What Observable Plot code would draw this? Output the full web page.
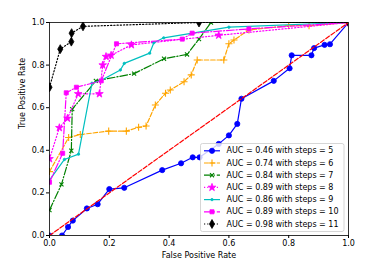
<!DOCTYPE html>
<html><head><meta charset="utf-8">
<script src="https://cdn.jsdelivr.net/npm/d3@7"></script>
<script src="https://cdn.jsdelivr.net/npm/@observablehq/plot@0.6"></script>
<style>body{margin:0;background:#fff}</style>
</head><body><div id="chart"></div>
<script>
const steps = [5, 6, 7, 8, 9, 10, 11];
const aucs = [0.46, 0.74, 0.84, 0.89, 0.86, 0.89, 0.98];
const fpr5 = [0,0.042,0.062,0.078,0.125,0.161,0.2,0.25,0.377,0.44,0.479,0.502,0.566,0.6,0.628,0.642,0.75,0.803,0.81,0.876,0.885,0.92,0.938,1];
const tpr5 = [0,0,0.04,0.07,0.127,0.147,0.218,0.224,0.307,0.339,0.367,0.367,0.43,0.47,0.524,0.642,0.726,0.785,0.846,0.846,0.88,0.895,0.898,1];
const fpr6 = [0,0.064,0.103,0.198,0.257,0.298,0.323,0.354,0.388,0.404,0.45,0.474,0.494,0.583,0.6,0.617,0.667,0.8,0.868,1];
const tpr6 = [0.30,0.46,0.474,0.49,0.49,0.508,0.514,0.613,0.668,0.683,0.722,0.754,0.824,0.824,0.90,0.918,0.965,0.985,0.985,1];
const fpr7 = [0,0.04,0.073,0.076,0.155,0.283,0.383,0.46,0.5,0.54,1];
const tpr7 = [0.119,0.24,0.398,0.593,0.726,0.76,0.83,0.85,0.922,1,1];
const fpr8 = [0,0.033,0.06,0.096,0.167,0.178,0.189,0.206,0.274,0.566,1];
const tpr8 = [0.36,0.506,0.55,0.665,0.665,0.80,0.84,0.846,0.895,0.94,1];
const fpr9 = [0,0.05,0.097,0.142,0.175,0.237,0.25,0.335,0.349,0.382,0.6,1];
const tpr9 = [0.26,0.357,0.382,0.715,0.73,0.777,0.808,0.856,0.905,0.928,0.978,1];
const fpr10 = [0,0.044,0.056,0.09,0.173,0.224,0.444,0.477,0.667,1];
const tpr10 = [0.25,0.386,0.67,0.696,0.726,0.90,0.922,0.95,0.97,1];
const fpr11 = [0,0.036,0.073,0.074,0.112,0.5,1];
const tpr11 = [0.696,0.875,0.91,0.95,0.982,1,1];
const diagX = [0, 1];
const diagY = [0, 1];
const xTicks = [0, 0.2, 0.4, 0.6, 0.8, 1.0];
const yTicks = [0, 0.2, 0.4, 0.6, 0.8, 1.0];

const fprs = [fpr5, fpr6, fpr7, fpr8, fpr9, fpr10, fpr11];
const tprs = [tpr5, tpr6, tpr7, tpr8, tpr9, tpr10, tpr11];
const colors = ["#0000ff", "#ffa500", "#008000", "#ff00ff", "#00bfbf", "#ff00ff", "#000000"];
const dashes = ["none", "4.5,1.9", "7.8,1.9,1.2,1.9", "1.2,2", "none", "7.8,1.9,1.2,1.9", "1.2,2"];
const symbols = ["circle", "plus", "times", "star", "circle", "square", "diamond"];
const radii = [2.6, 2.4, 2.0, 2.4, 1.2, 2.3, 2.7];
const strokeSym = [false, true, true, false, false, false, false];
const labels = steps.map((s, i) => `AUC = ${aucs[i].toFixed(2)} with steps = ${s}`);

const marks = [];
fprs.forEach((fx, i) => {
  const rows = fx.map((x, j) => ({x, y: tprs[i][j]}));
  marks.push(Plot.line(rows, {x: "x", y: "y", stroke: colors[i], strokeWidth: 1.2,
    strokeDasharray: dashes[i], clip: true}));
  marks.push(Plot.dot(rows, {x: "x", y: "y", symbol: symbols[i], r: radii[i],
    fill: strokeSym[i] ? "none" : colors[i], stroke: colors[i], strokeWidth: strokeSym[i] ? 1.1 : 0.8, clip: true}));
});
const diag = diagX.map((x, j) => ({x, y: diagY[j]}));
marks.push(Plot.line(diag, {x: "x", y: "y", stroke: "#ff0000", strokeWidth: 1.2, strokeDasharray: "4.5,1.9", clip: true}));

const chart = Plot.plot({
  width: 374, height: 280,
  marginLeft: 49, marginRight: 26, marginTop: 22, marginBottom: 45,
  style: {fontFamily: "DejaVu Sans", fontSize: "8px", color: "black", background: "white"},
  x: {domain: [0, 1]},
  y: {domain: [0, 1]},
  marks: [
    ...marks,
    Plot.frame({stroke: "black", strokeWidth: 0.8}),
    Plot.axisX({ticks: xTicks, tickFormat: d3.format(".1f"), tickSize: 3, tickPadding: 2, label: null}),
    Plot.axisY({ticks: yTicks, tickFormat: d3.format(".1f"), tickSize: 3, tickPadding: 2, label: null}),
    Plot.text(["False Positive Rate"], {frameAnchor: "bottom", dy: 22, fontSize: 8}),
    Plot.text(["True Positive Rate"], {frameAnchor: "left", dx: -27, rotate: -90, fontSize: 8})
  ]
});
document.getElementById("chart").appendChild(chart);

// legend
const svg = d3.select(chart);
const lg = svg.append("g").attr("font-family", "DejaVu Sans").attr("font-size", 8).attr("text-anchor", "start");
lg.append("rect").attr("x", 200.5).attr("y", 143.5).attr("width", 143.5).attr("height", 88)
  .attr("rx", 2).attr("fill", "white").attr("fill-opacity", 0.8).attr("stroke", "#cccccc").attr("stroke-width", 0.8);
const symMap = {circle: d3.symbolCircle, plus: d3.symbolPlus, times: d3.symbolTimes, star: d3.symbolStar, square: d3.symbolSquare, diamond: d3.symbolDiamond};
labels.forEach((lab, i) => {
  const cy = 150.8 + i * 12.2;
  lg.append("line").attr("x1", 204).attr("x2", 220).attr("y1", cy).attr("y2", cy)
    .attr("stroke", colors[i]).attr("stroke-width", 1.2).attr("stroke-dasharray", dashes[i]);
  lg.append("path").attr("transform", `translate(212,${cy})`)
    .attr("d", d3.symbol(symMap[symbols[i]], Math.PI * radii[i] * radii[i])())
    .attr("fill", strokeSym[i] ? "none" : colors[i]).attr("stroke", colors[i]).attr("stroke-width", strokeSym[i] ? 1.1 : 0.8);
  lg.append("text").attr("x", 226.5).attr("y", cy).attr("dy", "0.32em").attr("fill", "black")
    .attr("text-anchor", "start").text(lab);
});
</script>
</body></html>
